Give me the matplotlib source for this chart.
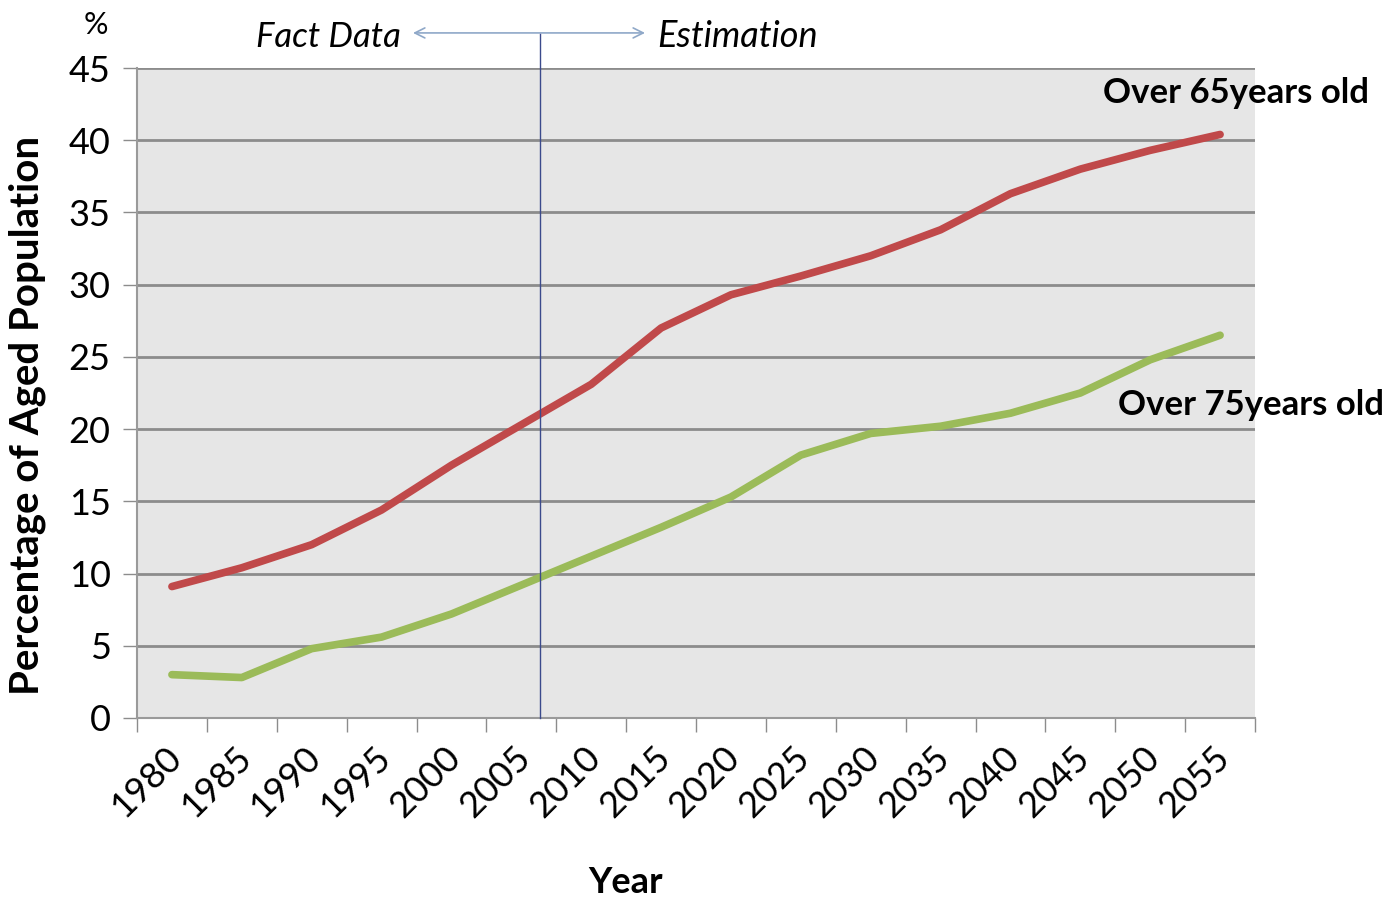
import matplotlib
matplotlib.use("Agg")
import matplotlib.pyplot as plt
import matplotlib.transforms as mtransforms
import numpy as np

plt.rcParams["font.family"] = ["Lato", "DejaVu Sans"]

# share of population by age group, 1980-2055 (fact up to ~2005, estimation after)
YEARS = ["1980", "1985", "1990", "1995", "2000", "2005", "2010", "2015",
         "2020", "2025", "2030", "2035", "2040", "2045", "2050", "2055"]
OVER_65 = [9.1, 10.4, 12.0, 14.4, 17.5, 20.3, 23.1, 27.0,
           29.3, 30.6, 32.0, 33.8, 36.3, 38.0, 39.3, 40.4]
OVER_75 = [3.0, 2.8, 4.8, 5.6, 7.2, 9.2, 11.2, 13.2,
           15.3, 18.2, 19.7, 20.2, 21.1, 22.5, 24.8, 26.5]

RED = "#c0494a"
GREEN = "#9bbb59"
SPLIT_X = 5.27  # fact / estimation boundary, in category units

fig = plt.figure(figsize=(13.88, 9.07), dpi=100)
ax = fig.add_axes([0.0987, 0.2084, 0.8055, 0.7166])
ax.set_facecolor("#e6e6e6")

x = np.arange(len(YEARS))
ax.plot(x, OVER_65, color=RED, lw=5.5, solid_capstyle="round", zorder=3)
ax.plot(x, OVER_75, color=GREEN, lw=5.5, solid_capstyle="round", zorder=3)

ax.set_xlim(-0.5, len(YEARS) - 0.5)
ax.set_ylim(0, 45)
ax.set_yticks(np.arange(0, 46, 5))
ax.yaxis.grid(True, color="#8c8c8c", lw=2)
ax.set_axisbelow(True)

# tick marks between categories, labels centred under each point
ax.set_xticks(np.arange(-0.5, len(YEARS)), labels=[])
ax.set_xticks(x, labels=YEARS, minor=True)
ax.tick_params(axis="x", which="major", length=10, width=1, color="#8c8c8c")
ax.tick_params(axis="x", which="minor", length=0, pad=16, labelsize=26)
ax.tick_params(axis="y", length=10, width=1, color="#8c8c8c", pad=9, labelsize=26)
shift = mtransforms.ScaledTranslation(-8 / 100, 0, fig.dpi_scale_trans)
for lbl in ax.get_xticklabels(minor=True):
    lbl.set_rotation(45)
    lbl.set_ha("right")
    lbl.set_rotation_mode("anchor")
    lbl.set_transform(lbl.get_transform() + shift)

for side in ("top", "right"):
    ax.spines[side].set_visible(False)
for side in ("left", "bottom"):
    ax.spines[side].set_color("#9a9a9a")
    ax.spines[side].set_linewidth(1.5)

ax.set_ylabel("Percentage of Aged Population", fontsize=29, fontweight="bold")
ax.yaxis.set_label_coords(-0.081, 0.465)
ax.set_xlabel("Year", fontsize=26, fontweight="bold")
ax.xaxis.set_label_coords(0.437, -0.228)

ax.text(-0.037, 1.066, "%", transform=ax.transAxes, fontsize=22, ha="center", va="center")

# fact / estimation split
ax.axvline(SPLIT_X, ymin=0, ymax=1.052, color="#3b4a8c", lw=1, clip_on=False, zorder=4)
ax.annotate("", xy=(3.41, 1.054), xytext=(6.81, 1.054),
            xycoords=("data", "axes fraction"), textcoords=("data", "axes fraction"),
            arrowprops=dict(arrowstyle="<->", color="#8fa8c8", lw=1.2,
                            mutation_scale=18))
ax.text(3.27, 1.048, "Fact Data", transform=ax.get_xaxis_transform(),
        fontsize=25, style="italic", ha="right", va="center")
ax.text(6.94, 1.048, "Estimation", transform=ax.get_xaxis_transform(),
        fontsize=26, style="italic", ha="left", va="center")

ax.text(13.32, 43.3, "Over 65years old", fontsize=25, fontweight="bold",
        ha="left", va="center", clip_on=False)
ax.text(13.54, 21.7, "Over 75years old", fontsize=25, fontweight="bold",
        ha="left", va="center", clip_on=False)

fig.savefig("out.png", dpi=100)
